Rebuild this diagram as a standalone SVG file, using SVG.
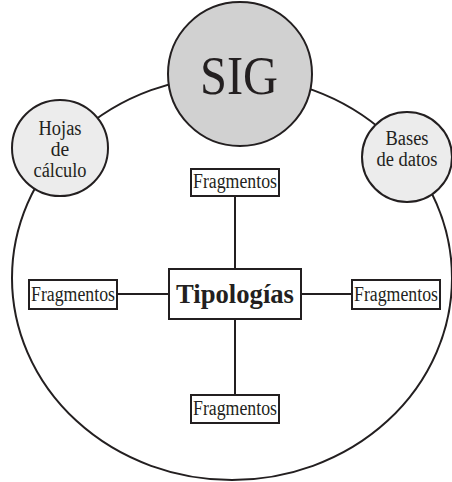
<svg xmlns="http://www.w3.org/2000/svg" width="452" height="482" viewBox="0 0 452 482">
<style>
.ln{stroke:#231f20;stroke-width:2;fill:none}
.bx{fill:#fff;stroke:#231f20;stroke-width:2}
.t{font-family:"Liberation Serif","Times New Roman",serif;fill:#231f20;text-anchor:middle}
.f{font-size:20px}
.c1{fill:#ececec;stroke:#231f20;stroke-width:2}
</style>
<rect width="452" height="482" fill="#fff"/>
<g id="outer">
<ellipse cx="232" cy="278" rx="220" ry="202" class="ln"/>
</g>
<g id="connectors">
<line x1="235" y1="196" x2="235" y2="269" class="ln"/>
<line x1="235" y1="319" x2="235" y2="395" class="ln"/>
<line x1="117" y1="294" x2="169" y2="294" class="ln"/>
<line x1="301" y1="294" x2="352" y2="294" class="ln"/>
</g>
<g id="sig">
<circle cx="240" cy="74" r="72" fill="#d1d1d1" stroke="#231f20" stroke-width="2"/>
<text x="239" y="94" class="t" font-size="54" textLength="78" lengthAdjust="spacingAndGlyphs">SIG</text>
</g>
<g id="hojas">
<circle cx="60" cy="148" r="48" class="c1"/>
<text x="60" y="135" class="t f" textLength="43" lengthAdjust="spacingAndGlyphs">Hojas</text>
<text x="60" y="156" class="t f" textLength="18.5" lengthAdjust="spacingAndGlyphs">de</text>
<text x="60" y="177" class="t f" textLength="53" lengthAdjust="spacingAndGlyphs">cálculo</text>
</g>
<g id="bases">
<circle cx="407" cy="157" r="45" class="c1"/>
<text x="407" y="145" class="t f" textLength="43" lengthAdjust="spacingAndGlyphs">Bases</text>
<text x="407" y="166" class="t f" textLength="61" lengthAdjust="spacingAndGlyphs">de datos</text>
</g>
<g id="tipologias">
<rect x="169" y="269" width="132" height="50" class="bx"/>
<text x="235" y="303" class="t" font-size="28" font-weight="bold" textLength="118" lengthAdjust="spacingAndGlyphs">Tipologías</text>
</g>
<g id="frag-top">
<rect x="191" y="169" width="88" height="27" class="bx"/>
<text x="235" y="188" class="t f" textLength="84" lengthAdjust="spacingAndGlyphs">Fragmentos</text>
</g>
<g id="frag-left">
<rect x="29" y="280" width="88" height="29" class="bx"/>
<text x="73" y="301" class="t f" textLength="84" lengthAdjust="spacingAndGlyphs">Fragmentos</text>
</g>
<g id="frag-right">
<rect x="352" y="280" width="88" height="29" class="bx"/>
<text x="396" y="301" class="t f" textLength="84" lengthAdjust="spacingAndGlyphs">Fragmentos</text>
</g>
<g id="frag-bottom">
<rect x="191" y="395" width="88" height="28" class="bx"/>
<text x="235" y="415" class="t f" textLength="84" lengthAdjust="spacingAndGlyphs">Fragmentos</text>
</g>
</svg>
